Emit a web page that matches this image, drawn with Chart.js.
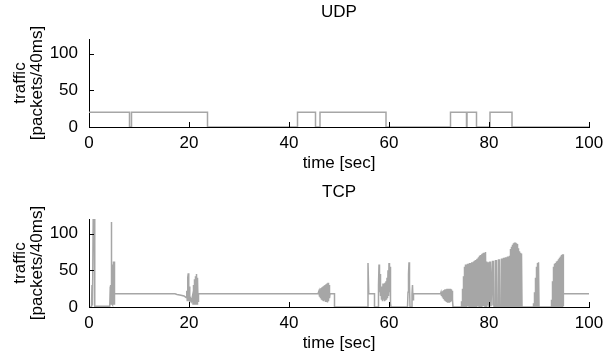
<!DOCTYPE html>
<html>
<head>
<meta charset="utf-8">
<script src="https://cdn.jsdelivr.net/npm/chart.js@4.4.1/dist/chart.umd.min.js"></script>
<style>
  body { margin: 0; background: #fff; }
  canvas { display: block; }
</style>
</head>
<body>
<canvas id="udpChart" width="603" height="180"></canvas>
<canvas id="tcpChart" width="603" height="180"></canvas>
<script>
// tick labels
const timeTicks = [0, 20, 40, 60, 80, 100];
const trafficTicks = [0, 50, 100];

// UDP: on/off source, value holds until next time (stepped)
const udpTime  = [0, 8.1, 8.5, 23.7, 41.7, 45.3, 46.2, 59.4, 72.3, 75.5, 75.6, 77.5, 80.2, 84.6, 100];
const udpLevel = [20, 0, 20, 0, 20, 0, 20, 0, 20, 0, 20, 0, 20, 0, 0];

// TCP: [time, packets], burst by burst
const tcpStart = [[0,0],[0.5,0],[0.6,30],[0.7,2],[0.85,130],[1.05,130],[1.15,1],
  [4.15,1],[4.25,28],[4.3,3],[4.35,30],[4.4,4],[4.45,116],[4.5,5],[4.55,32],[4.6,4],[4.65,35],[4.7,3],
  [4.75,58],[4.8,4],[4.85,61],[4.9,5],[4.95,62],[5.0,4],[5.05,62],[5.15,18]];
const tcpBurst20 = [[17.2,18],[17.6,17],[18.4,16],[19.0,15],[19.4,13],[19.55,22],[19.65,9],[19.75,40],[19.85,46],
  [19.95,8],[20.05,28],[20.15,6],[20.3,12],[20.5,8],[20.7,15],[20.8,4],[20.9,30],[21.0,5],[21.1,38],[21.2,4],
  [21.3,42],[21.4,5],[21.5,45],[21.6,4],[21.7,40],[21.8,8],[21.9,18]];
const tcpBurst47 = [[45.8,18],[46.0,22],[46.1,14],[46.2,24],[46.3,12],[46.4,26],[46.5,10],[46.6,27],[46.7,9],
  [46.8,28],[46.9,8],[47.0,29],[47.1,9],[47.2,30],[47.3,7],[47.4,31],[47.5,7],[47.6,32],[47.7,6],[47.8,33],
  [47.9,8],[48.0,30],[48.1,12],[48.2,18],[49.1,18],[49.1,0],[55.7,0]];
const tcpBurst58 = [[55.8,60],[55.95,18],[57.1,18],[57.1,0],[57.8,0],[57.9,30],[58.0,58],[58.1,20],[58.2,45],
  [58.3,15],[58.4,25],[58.5,10],[58.6,28],[58.7,8],[58.8,32],[58.9,10],[59.0,30],[59.1,8],[59.2,33],[59.3,9],
  [59.4,35],[59.5,10],[59.6,40],[59.7,12],[59.8,50],[59.9,15],[60.0,60],[60.1,20],[60.2,55],[60.3,5],[60.4,0],
  [63.7,0],[63.8,20],[63.9,45],[64.0,61],[64.1,30],[64.2,0],[64.5,0],[64.6,18],[64.7,30],[64.8,10],[64.9,18]];
const tcpBlob72 = [[70.3,18],[70.4,20],[70.5,15],[70.6,21],[70.7,13],[70.8,22],[70.9,11],[71.0,23],[71.1,9],
  [71.2,24],[71.3,8],[71.4,24],[71.5,7],[71.6,25],[71.7,6],[71.8,25],[71.9,6],[72.0,25],[72.1,6],[72.2,25],
  [72.3,7],[72.4,24],[72.5,8],[72.6,22],[72.7,10],[72.8,0],[74.4,0]];
const tcpBurst80 = [[74.5,8],[74.6,1],[74.7,25],[74.8,1],[74.9,42],[75.0,2],[75.1,55],[75.2,1],[75.3,58],[75.4,2],
  [75.5,58],[75.6,1],[75.7,59],[75.8,2],[75.9,59],[76.0,1],[76.1,60],[76.2,2],[76.3,60],[76.4,1],[76.5,61],
  [76.6,2],[76.7,61],[76.8,1],[76.9,62],[77.0,2],[77.1,63],[77.2,1],[77.3,64],[77.4,2],[77.5,65],[77.6,1],
  [77.7,66],[77.8,2],[77.9,68],[78.0,1],[78.1,70],[78.2,2],[78.3,71],[78.4,1],[78.5,72],[78.6,2],[78.7,73],
  [78.8,1],[78.9,74],[79.0,2],[79.1,74],[79.2,1],[79.3,75],[79.4,2],[79.5,62],[79.6,1],[79.7,61],[79.8,2],
  [79.9,61],[80.0,1],[80.1,62],[80.2,2],[80.3,62],[80.4,1],[80.6,1],[80.7,63],[80.8,2],[80.9,63],[81.0,1],
  [81.2,1],[81.3,64],[81.4,2],[81.5,64],[81.6,1],[81.8,1],[81.9,65],[82.0,2],[82.1,65],[82.2,1],[82.4,1],
  [82.5,66],[82.6,2],[82.7,66],[82.8,1],[82.9,67],[83.0,2],[83.1,67],[83.2,1],[83.3,68],[83.4,2],[83.5,68],
  [83.6,1],[83.7,69],[83.8,2],[83.9,69],[84.0,1],[84.1,70],[84.2,2],[84.3,79],[84.4,1],[84.5,82],[84.6,2],
  [84.7,85],[84.8,1],[84.9,87],[85.0,2],[85.1,88],[85.2,1],[85.3,88],[85.4,2],[85.5,87],[85.6,1],[85.7,86],
  [85.8,2],[85.9,80],[86.0,1],[86.1,76],[86.2,2],[86.3,74],[86.4,1],[86.5,73],[86.6,0],[88.8,0]];
const tcpBurst90 = [[88.9,5],[89.0,1],[89.1,20],[89.2,2],[89.3,40],[89.4,1],[89.5,55],[89.6,2],[89.7,60],
  [89.8,1],[89.9,61],[90.0,0],[92.4,0]];
const tcpBurst94 = [[92.5,10],[92.6,1],[92.7,35],[92.8,2],[92.9,55],[93.0,1],[93.1,59],[93.2,2],[93.3,60],
  [93.4,1],[93.5,62],[93.6,2],[93.7,63],[93.8,1],[93.9,65],[94.0,2],[94.1,67],[94.2,1],[94.3,69],[94.4,2],
  [94.5,71],[94.6,1],[94.7,72],[94.8,2],[94.85,72],[94.9,18],[100,18]];

const FONT = 'Liberation Sans, Arial, Helvetica, sans-serif';
const LINE = '#a6a6a6';

// gnuplot style ticks pointing into the plot
const innerTicks = {
  id: 'innerTicks',
  afterDatasetsDraw(chart) {
    const { ctx, chartArea: a, scales: { x, y } } = chart;
    ctx.save();
    ctx.strokeStyle = '#000';
    ctx.lineWidth = 1;
    ctx.beginPath();
    x.ticks.forEach(t => {
      const px = Math.round(x.getPixelForValue(t.value)) + 0.5;
      ctx.moveTo(px, a.bottom);
      ctx.lineTo(px, a.bottom - 5);
    });
    y.ticks.forEach(t => {
      const py = Math.round(y.getPixelForValue(t.value)) + 0.5;
      ctx.moveTo(a.left, py);
      ctx.lineTo(a.left + 5, py);
    });
    ctx.stroke();
    ctx.restore();
  }
};

function makeChart(id, name, points, stepped) {
  return new Chart(document.getElementById(id), {
    type: 'line',
    data: {
      datasets: [{
        data: points,
        borderColor: LINE,
        borderWidth: 1.5,
        pointRadius: 0,
        tension: 0,
        stepped: stepped
      }]
    },
    options: {
      responsive: false,
      animation: false,
      devicePixelRatio: 1,
      events: [],
      layout: { padding: { left: 0, right: 14, top: 0, bottom: 0 } },
      plugins: {
        legend: { display: false },
        tooltip: { enabled: false },
        title: {
          display: true,
          text: name,
          fullSize: false,
          color: '#000',
          font: { family: FONT, size: 17, weight: 'normal' },
          padding: { top: 2, bottom: 16.6 }
        }
      },
      scales: {
        x: {
          type: 'linear',
          min: 0,
          max: 100,
          afterBuildTicks: s => { s.ticks = timeTicks.map(v => ({ value: v })); },
          afterFit: s => { s.height = 53; s.paddingLeft = 0; s.paddingRight = 0; },
          ticks: { color: '#000', font: { family: FONT, size: 17 }, padding: 6, maxRotation: 0 },
          grid: { display: true, drawOnChartArea: false, drawTicks: false },
          border: { display: true, color: '#000', width: 1 },
          title: {
            display: true,
            text: 'time [sec]',
            color: '#000',
            font: { family: FONT, size: 17 },
            padding: { top: 0, bottom: 6.8 }
          }
        },
        y: {
          min: 0,
          max: 120,
          afterBuildTicks: s => { s.ticks = trafficTicks.map(v => ({ value: v })); },
          afterFit: s => { s.width = 89; },
          ticks: { color: '#000', font: { family: FONT, size: 17 }, padding: 11 },
          grid: { display: true, drawOnChartArea: false, drawTicks: false },
          border: { display: true, color: '#000', width: 1 },
          title: {
            display: true,
            text: ['traffic', '[packets/40ms]'],
            color: '#000',
            font: { family: FONT, size: 17, lineHeight: 1.0 },
            padding: { top: 12, bottom: 0 }
          }
        }
      }
    },
    plugins: [innerTicks]
  });
}

const udpPoints = udpTime.map((t, i) => ({ x: t, y: udpLevel[i] }));
const tcpPoints = [].concat(tcpStart, tcpBurst20, tcpBurst47, tcpBurst58, tcpBlob72,
  tcpBurst80, tcpBurst90, tcpBurst94).map(p => ({ x: p[0], y: p[1] }));

makeChart('udpChart', 'UDP', udpPoints, true);
makeChart('tcpChart', 'TCP', tcpPoints, false);
</script>
</body>
</html>
